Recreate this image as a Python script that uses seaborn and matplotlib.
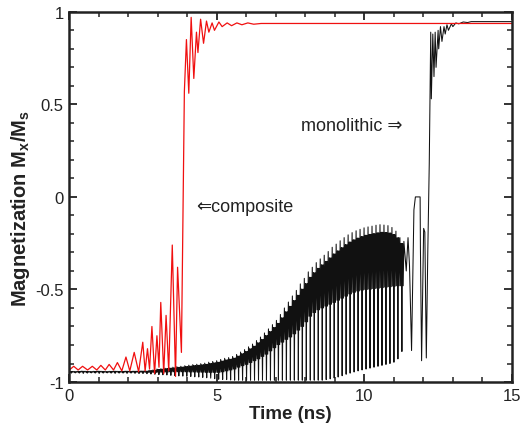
import numpy as np
import pandas as pd
import matplotlib
matplotlib.use("Agg")
import matplotlib.pyplot as plt
import seaborn as sns
from matplotlib.ticker import FixedLocator, MultipleLocator

# ---------------- data ----------------
# monolithic (black): one entry per precession cycle
bk_t0 = [0.000, 0.135, 0.270, 0.405, 0.540, 0.675, 0.810, 0.945, 1.080, 1.215,
         1.350, 1.485, 1.620, 1.755, 1.890, 2.025, 2.160, 2.295, 2.430, 2.565,
         2.700, 2.835, 2.970, 3.105, 3.240, 3.375, 3.510, 3.645, 3.780, 3.915,
         4.050, 4.185, 4.320, 4.455, 4.590, 4.725, 4.860, 4.995, 5.130, 5.265,
         5.400, 5.535, 5.670, 5.805, 5.940, 6.075, 6.210, 6.345, 6.480, 6.615,
         6.750, 6.885, 7.020, 7.155, 7.290, 7.425, 7.560, 7.695, 7.830, 7.965,
         8.100, 8.235, 8.370, 8.505, 8.640, 8.775, 8.910, 9.045, 9.180, 9.315,
         9.450, 9.585, 9.720, 9.855, 9.990, 10.125, 10.260, 10.395, 10.530, 10.665,
         10.800, 10.935, 11.070, 11.205]
bk_hi = [-0.942, -0.943, -0.942, -0.941, -0.942, -0.943, -0.942, -0.941, -0.942, -0.943,
         -0.942, -0.941, -0.942, -0.942, -0.941, -0.942, -0.941, -0.941, -0.940, -0.940,
         -0.937, -0.935, -0.930, -0.928, -0.925, -0.922, -0.920, -0.917, -0.915, -0.912,
         -0.909, -0.906, -0.904, -0.901, -0.898, -0.893, -0.889, -0.885, -0.878, -0.872,
         -0.868, -0.862, -0.851, -0.838, -0.825, -0.810, -0.795, -0.776, -0.757, -0.735,
         -0.713, -0.690, -0.667, -0.635, -0.600, -0.568, -0.535, -0.505, -0.470, -0.440,
         -0.405, -0.380, -0.355, -0.335, -0.315, -0.295, -0.272, -0.255, -0.237, -0.220,
         -0.205, -0.193, -0.183, -0.175, -0.167, -0.162, -0.158, -0.153, -0.150, -0.152,
         -0.155, -0.165, -0.185, -0.220]
bk_band = [-0.947, -0.947, -0.947, -0.946, -0.947, -0.947, -0.947, -0.946, -0.947, -0.947,
           -0.947, -0.946, -0.947, -0.947, -0.946, -0.947, -0.947, -0.947, -0.947, -0.948,
           -0.948, -0.948, -0.947, -0.947, -0.946, -0.945, -0.945, -0.945, -0.945, -0.945,
           -0.946, -0.946, -0.947, -0.947, -0.948, -0.948, -0.948, -0.948, -0.945, -0.940,
           -0.935, -0.930, -0.920, -0.912, -0.905, -0.895, -0.885, -0.875, -0.862, -0.850,
           -0.832, -0.815, -0.798, -0.785, -0.770, -0.757, -0.740, -0.720, -0.700, -0.675,
           -0.645, -0.625, -0.610, -0.600, -0.590, -0.580, -0.570, -0.558, -0.547, -0.536,
           -0.524, -0.515, -0.508, -0.503, -0.500, -0.498, -0.495, -0.493, -0.490, -0.487,
           -0.485, -0.482, -0.480, -0.480]
bk_lo = [-0.952, -0.951, -0.952, -0.953, -0.952, -0.951, -0.952, -0.953, -0.952, -0.951,
         -0.952, -0.953, -0.952, -0.952, -0.953, -0.952, -0.953, -0.954, -0.954, -0.955,
         -0.957, -0.958, -0.960, -0.961, -0.962, -0.964, -0.965, -0.967, -0.968, -0.969,
         -0.970, -0.972, -0.973, -0.975, -0.977, -0.979, -0.982, -0.985, -0.986, -0.987,
         -0.989, -0.990, -0.990, -0.990, -0.990, -0.990, -0.990, -0.990, -0.990, -0.990,
         -0.990, -0.990, -0.990, -0.990, -0.990, -0.990, -0.990, -0.990, -0.990, -0.990,
         -0.990, -0.990, -0.990, -0.990, -0.987, -0.983, -0.978, -0.973, -0.966, -0.958,
         -0.952, -0.946, -0.940, -0.935, -0.930, -0.925, -0.920, -0.915, -0.910, -0.905,
         -0.900, -0.893, -0.875, -0.835]
# monolithic switching tail
bk_tail_t = [11.34, 11.42, 11.48, 11.53, 11.60, 11.68, 11.73, 11.89, 11.90, 11.94,
             12.01, 12.05, 12.10, 12.15, 12.20, 12.25, 12.27, 12.32, 12.36, 12.40,
             12.43, 12.50, 12.52, 12.58, 12.63, 12.70, 12.74, 12.80, 12.85, 12.95,
             13.00, 13.10, 13.20, 13.35, 13.50, 13.62, 15.00]
bk_tail_m = [-0.24, -0.40, -0.22, -0.37, -0.83, -0.07, 0.00, 0.00, -0.27, -0.885,
             -0.17, -0.19, -0.87, -0.30, 0.18, 0.89, 0.53, 0.88, 0.65, 0.89,
             0.70, 0.90, 0.80, 0.92, 0.84, 0.92, 0.88, 0.93, 0.90, 0.935,
             0.92, 0.94, 0.935, 0.945, 0.942, 0.947, 0.947]

# composite (red)
rd_t = [0.00, 0.15, 0.30, 0.45, 0.62, 0.78, 0.93, 1.07, 1.22, 1.35,
        1.50, 1.63, 1.78, 1.92, 2.05, 2.20, 2.35, 2.49, 2.57, 2.65,
        2.72, 2.80, 2.89, 2.97, 3.04, 3.10, 3.20, 3.28, 3.37, 3.49,
        3.60, 3.67, 3.80, 3.90, 3.97, 4.05, 4.13, 4.22, 4.31, 4.36,
        4.45, 4.55, 4.65, 4.73, 4.84, 4.92, 5.07, 5.18, 5.35, 5.50,
        5.68, 5.85, 6.05, 6.25, 6.50, 15.00]
rd_m = [-0.935, -0.915, -0.935, -0.915, -0.935, -0.915, -0.935, -0.910, -0.935, -0.905,
        -0.935, -0.895, -0.940, -0.865, -0.940, -0.840, -0.945, -0.785, -0.940, -0.820,
        -0.930, -0.700, -0.955, -0.750, -0.920, -0.570, -0.955, -0.640, -0.940, -0.260,
        -0.970, -0.380, -0.840, 0.570, 0.850, 0.560, 0.970, 0.640, 0.890, 0.780,
        0.960, 0.830, 0.950, 0.890, 0.940, 0.900, 0.945, 0.920, 0.940, 0.925,
        0.940, 0.930, 0.940, 0.933, 0.937, 0.937]

x_ticks = [0, 5, 10, 15]
y_ticks = [-1, -0.5, 0, 0.5, 1]
y_ticklabels = ["-1", "-0.5", "0", "0.5", "1"]

# ---------------- build the monolithic trace ----------------
# each cycle: spike up to hi, fast wiggle across the band, narrow spike down to lo
bk_t, bk_m = [], []
t_next = bk_t0[1:] + [bk_tail_t[0]]
for t0, tn, hi, bd, lo in zip(bk_t0, t_next, bk_hi, bk_band, bk_lo):
    T = tn - t0
    top2 = hi + 0.12 * (bd - hi)
    bk_t += [t0, t0 + 0.18 * T, t0 + 0.32 * T, t0 + 0.44 * T,
             t0 + 0.5 * T, t0 + 0.56 * T, t0 + 0.68 * T, t0 + 0.82 * T]
    bk_m += [hi, bd, top2, bd, lo, bd, top2, bd]
bk_t += bk_tail_t
bk_m += bk_tail_m

df_bk = pd.DataFrame({"t": bk_t, "m": bk_m})
df_rd = pd.DataFrame({"t": rd_t, "m": rd_m})

# ---------------- plotting ----------------
sns.set_theme(style="ticks")
plt.rcParams["font.family"] = ["Liberation Sans", "DejaVu Sans"]
plt.rcParams["mathtext.fontset"] = "custom"
plt.rcParams["mathtext.rm"] = "Liberation Sans"
plt.rcParams["mathtext.bf"] = "Liberation Sans:bold"

fig = plt.figure(figsize=(5.25, 4.27), dpi=100)
ax = fig.add_axes([0.132, 0.103, 0.843, 0.867])

sns.lineplot(data=df_bk, x="t", y="m", sort=False, estimator=None,
             color="#111111", linewidth=0.75, ax=ax)
sns.lineplot(data=df_rd, x="t", y="m", sort=False, estimator=None,
             color="#f01010", linewidth=0.9, ax=ax)

ax.set_xlim(0, 15)
ax.set_ylim(-1, 1)
ax.xaxis.set_major_locator(FixedLocator(x_ticks))
ax.xaxis.set_minor_locator(MultipleLocator(1))
ax.yaxis.set_major_locator(FixedLocator(y_ticks))
ax.set_yticklabels(y_ticklabels)
ax.yaxis.set_minor_locator(MultipleLocator(0.1))

ax.tick_params(which="both", direction="in", top=True, right=True,
               color="#222222", labelsize=12, labelcolor="#222222")
ax.tick_params(which="major", length=6, width=1.3, pad=4)
ax.tick_params(which="minor", length=3.5, width=1.1)
for s in ax.spines.values():
    s.set_linewidth(1.8)
    s.set_color("#222222")
    s.set_visible(True)

ax.set_xlabel("Time (ns)", fontsize=13.5, fontweight="bold", color="#222222", labelpad=2)
ax.set_ylabel(r"Magnetization $\mathbf{M_x/M_s}$", fontsize=14.5, fontweight="bold",
              color="#222222")
ax.yaxis.set_label_coords(-0.085, 0.47)

ax.text(7.85, 0.385, "monolithic \u21d2", fontsize=13, color="#222222",
        va="center", ha="left", family=["Liberation Sans", "DejaVu Sans"])
ax.text(4.3, -0.05, "\u21d0composite", fontsize=13, color="#222222",
        va="center", ha="left", family=["Liberation Sans", "DejaVu Sans"])

fig.savefig("out.png", dpi=100)
